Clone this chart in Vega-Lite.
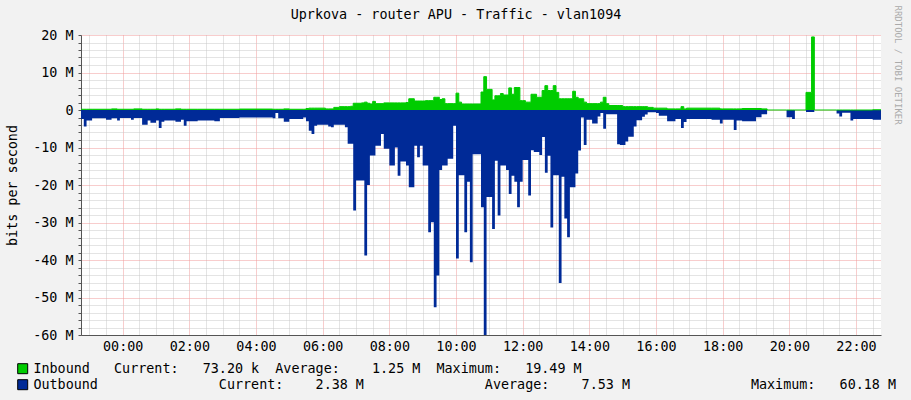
{
  "$schema": "https://vega.github.io/schema/vega-lite/v6.json",
  "width": 800,
  "height": 300,
  "autosize": {"type": "none"},
  "padding": {"left": 81, "top": 35, "right": 30, "bottom": 65},
  "background": "#f2f2f2",
  "title": {"text": "Uprkova - router APU - Traffic - vlan1094", "anchor": "middle", "offset": -16, "dx": -25, "font": "DejaVu Sans Mono", "fontSize": 13.4, "fontWeight": "normal", "color": "#000"},
  "config": {"view": {"fill": "white", "stroke": null}},
  "data": {"values": [
    {"t":"2024-01-01T22:45:00Z","Inbound":0.2,"Outbound":-2.4},
    {"t":"2024-01-01T22:50:00Z","Inbound":0.2,"Outbound":-4.4},
    {"t":"2024-01-01T22:55:00Z","Inbound":0.2,"Outbound":-2.8},
    {"t":"2024-01-01T23:05:00Z","Inbound":0.2,"Outbound":-2.2},
    {"t":"2024-01-01T23:30:00Z","Inbound":0.2,"Outbound":-2.6},
    {"t":"2024-01-01T23:40:00Z","Inbound":0.3,"Outbound":-2.2},
    {"t":"2024-01-01T23:50:00Z","Inbound":0.2,"Outbound":-2.8},
    {"t":"2024-01-01T23:55:00Z","Inbound":0.2,"Outbound":-2.1},
    {"t":"2024-01-02T00:15:00Z","Inbound":0.2,"Outbound":-2.6},
    {"t":"2024-01-02T00:20:00Z","Inbound":0.3,"Outbound":-2.1},
    {"t":"2024-01-02T00:35:00Z","Inbound":0.2,"Outbound":-3.9},
    {"t":"2024-01-02T00:45:00Z","Inbound":0.2,"Outbound":-2.8},
    {"t":"2024-01-02T00:50:00Z","Inbound":0.2,"Outbound":-3.4},
    {"t":"2024-01-02T01:00:00Z","Inbound":0.3,"Outbound":-2.8},
    {"t":"2024-01-02T01:05:00Z","Inbound":0.2,"Outbound":-4.8},
    {"t":"2024-01-02T01:10:00Z","Inbound":0.2,"Outbound":-3.1},
    {"t":"2024-01-02T01:15:00Z","Inbound":0.2,"Outbound":-2.8},
    {"t":"2024-01-02T01:35:00Z","Inbound":0.3,"Outbound":-3.1},
    {"t":"2024-01-02T01:45:00Z","Inbound":0.2,"Outbound":-2.6},
    {"t":"2024-01-02T01:50:00Z","Inbound":0.2,"Outbound":-4.2},
    {"t":"2024-01-02T01:55:00Z","Inbound":0.2,"Outbound":-3.0},
    {"t":"2024-01-02T02:15:00Z","Inbound":0.2,"Outbound":-2.8},
    {"t":"2024-01-02T02:45:00Z","Inbound":0.2,"Outbound":-3.0},
    {"t":"2024-01-02T02:55:00Z","Inbound":0.2,"Outbound":-2.1},
    {"t":"2024-01-02T03:30:00Z","Inbound":0.25,"Outbound":-2.0},
    {"t":"2024-01-02T04:30:00Z","Inbound":0.2,"Outbound":-2.2},
    {"t":"2024-01-02T04:35:00Z","Inbound":0.2,"Outbound":-0.8},
    {"t":"2024-01-02T04:40:00Z","Inbound":0.2,"Outbound":-2.2},
    {"t":"2024-01-02T04:50:00Z","Inbound":0.3,"Outbound":-3.1},
    {"t":"2024-01-02T05:00:00Z","Inbound":0.2,"Outbound":-2.4},
    {"t":"2024-01-02T05:25:00Z","Inbound":0.2,"Outbound":-2.0},
    {"t":"2024-01-02T05:30:00Z","Inbound":0.4,"Outbound":-3.0},
    {"t":"2024-01-02T05:35:00Z","Inbound":0.5,"Outbound":-5.5},
    {"t":"2024-01-02T05:40:00Z","Inbound":0.5,"Outbound":-6.4},
    {"t":"2024-01-02T05:45:00Z","Inbound":0.5,"Outbound":-4.2},
    {"t":"2024-01-02T05:50:00Z","Inbound":0.5,"Outbound":-3.9},
    {"t":"2024-01-02T06:05:00Z","Inbound":0.3,"Outbound":-3.9},
    {"t":"2024-01-02T06:10:00Z","Inbound":0.3,"Outbound":-4.4},
    {"t":"2024-01-02T06:15:00Z","Inbound":0.3,"Outbound":-4.6},
    {"t":"2024-01-02T06:20:00Z","Inbound":0.7,"Outbound":-3.9},
    {"t":"2024-01-02T06:30:00Z","Inbound":0.9,"Outbound":-3.9},
    {"t":"2024-01-02T06:40:00Z","Inbound":0.9,"Outbound":-4.6},
    {"t":"2024-01-02T06:45:00Z","Inbound":0.9,"Outbound":-9.0},
    {"t":"2024-01-02T06:50:00Z","Inbound":1.0,"Outbound":-9.0},
    {"t":"2024-01-02T06:55:00Z","Inbound":1.8,"Outbound":-26.8},
    {"t":"2024-01-02T07:00:00Z","Inbound":1.8,"Outbound":-18.8},
    {"t":"2024-01-02T07:10:00Z","Inbound":1.9,"Outbound":-18.8},
    {"t":"2024-01-02T07:15:00Z","Inbound":2.1,"Outbound":-38.8},
    {"t":"2024-01-02T07:20:00Z","Inbound":1.8,"Outbound":-20.0},
    {"t":"2024-01-02T07:25:00Z","Inbound":1.6,"Outbound":-12.1},
    {"t":"2024-01-02T07:30:00Z","Inbound":2.3,"Outbound":-12.1},
    {"t":"2024-01-02T07:35:00Z","Inbound":1.7,"Outbound":-9.5},
    {"t":"2024-01-02T07:45:00Z","Inbound":1.7,"Outbound":-6.4},
    {"t":"2024-01-02T07:50:00Z","Inbound":1.9,"Outbound":-10.3},
    {"t":"2024-01-02T08:00:00Z","Inbound":1.9,"Outbound":-14.8},
    {"t":"2024-01-02T08:10:00Z","Inbound":1.9,"Outbound":-10.0},
    {"t":"2024-01-02T08:15:00Z","Inbound":1.9,"Outbound":-17.5},
    {"t":"2024-01-02T08:20:00Z","Inbound":1.9,"Outbound":-13.7},
    {"t":"2024-01-02T08:30:00Z","Inbound":2.0,"Outbound":-14.8},
    {"t":"2024-01-02T08:35:00Z","Inbound":3.0,"Outbound":-20.6},
    {"t":"2024-01-02T08:45:00Z","Inbound":2.4,"Outbound":-9.5},
    {"t":"2024-01-02T08:50:00Z","Inbound":2.4,"Outbound":-12.6},
    {"t":"2024-01-02T08:55:00Z","Inbound":2.4,"Outbound":-9.5},
    {"t":"2024-01-02T09:00:00Z","Inbound":2.4,"Outbound":-14.8},
    {"t":"2024-01-02T09:05:00Z","Inbound":2.5,"Outbound":-14.8},
    {"t":"2024-01-02T09:10:00Z","Inbound":2.5,"Outbound":-32.6},
    {"t":"2024-01-02T09:15:00Z","Inbound":2.5,"Outbound":-29.9},
    {"t":"2024-01-02T09:20:00Z","Inbound":3.4,"Outbound":-52.6},
    {"t":"2024-01-02T09:25:00Z","Inbound":3.4,"Outbound":-44.1},
    {"t":"2024-01-02T09:30:00Z","Inbound":2.8,"Outbound":-16.0},
    {"t":"2024-01-02T09:35:00Z","Inbound":3.0,"Outbound":-14.8},
    {"t":"2024-01-02T09:40:00Z","Inbound":1.7,"Outbound":-14.8},
    {"t":"2024-01-02T09:45:00Z","Inbound":1.7,"Outbound":-13.0},
    {"t":"2024-01-02T09:55:00Z","Inbound":1.7,"Outbound":-4.2},
    {"t":"2024-01-02T10:00:00Z","Inbound":4.5,"Outbound":-39.6},
    {"t":"2024-01-02T10:05:00Z","Inbound":2.1,"Outbound":-17.4},
    {"t":"2024-01-02T10:10:00Z","Inbound":1.6,"Outbound":-17.4},
    {"t":"2024-01-02T10:15:00Z","Inbound":1.6,"Outbound":-32.6},
    {"t":"2024-01-02T10:20:00Z","Inbound":1.6,"Outbound":-19.1},
    {"t":"2024-01-02T10:25:00Z","Inbound":1.6,"Outbound":-40.6},
    {"t":"2024-01-02T10:30:00Z","Inbound":1.6,"Outbound":-11.8},
    {"t":"2024-01-02T10:45:00Z","Inbound":4.8,"Outbound":-25.9},
    {"t":"2024-01-02T10:50:00Z","Inbound":8.9,"Outbound":-60.18},
    {"t":"2024-01-02T10:55:00Z","Inbound":5.5,"Outbound":-23.2},
    {"t":"2024-01-02T11:05:00Z","Inbound":2.7,"Outbound":-31.7},
    {"t":"2024-01-02T11:10:00Z","Inbound":3.8,"Outbound":-13.5},
    {"t":"2024-01-02T11:15:00Z","Inbound":3.8,"Outbound":-28.1},
    {"t":"2024-01-02T11:20:00Z","Inbound":4.4,"Outbound":-14.8},
    {"t":"2024-01-02T11:25:00Z","Inbound":4.0,"Outbound":-14.8},
    {"t":"2024-01-02T11:30:00Z","Inbound":4.0,"Outbound":-16.0},
    {"t":"2024-01-02T11:35:00Z","Inbound":5.9,"Outbound":-22.4},
    {"t":"2024-01-02T11:40:00Z","Inbound":4.2,"Outbound":-17.5},
    {"t":"2024-01-02T11:45:00Z","Inbound":6.0,"Outbound":-19.1},
    {"t":"2024-01-02T11:50:00Z","Inbound":6.0,"Outbound":-25.9},
    {"t":"2024-01-02T11:55:00Z","Inbound":2.5,"Outbound":-19.1},
    {"t":"2024-01-02T12:00:00Z","Inbound":2.5,"Outbound":-13.3},
    {"t":"2024-01-02T12:05:00Z","Inbound":2.1,"Outbound":-13.3},
    {"t":"2024-01-02T12:10:00Z","Inbound":2.1,"Outbound":-22.8},
    {"t":"2024-01-02T12:15:00Z","Inbound":4.2,"Outbound":-10.7},
    {"t":"2024-01-02T12:20:00Z","Inbound":4.2,"Outbound":-11.2},
    {"t":"2024-01-02T12:25:00Z","Inbound":3.4,"Outbound":-11.2},
    {"t":"2024-01-02T12:30:00Z","Inbound":3.4,"Outbound":-12.0},
    {"t":"2024-01-02T12:35:00Z","Inbound":5.2,"Outbound":-7.2},
    {"t":"2024-01-02T12:40:00Z","Inbound":6.5,"Outbound":-16.7},
    {"t":"2024-01-02T12:45:00Z","Inbound":5.2,"Outbound":-12.2},
    {"t":"2024-01-02T12:50:00Z","Inbound":5.2,"Outbound":-31.3},
    {"t":"2024-01-02T12:55:00Z","Inbound":6.5,"Outbound":-17.4},
    {"t":"2024-01-02T13:00:00Z","Inbound":4.7,"Outbound":-17.4},
    {"t":"2024-01-02T13:05:00Z","Inbound":3.0,"Outbound":-46.1},
    {"t":"2024-01-02T13:10:00Z","Inbound":3.0,"Outbound":-17.8},
    {"t":"2024-01-02T13:15:00Z","Inbound":3.0,"Outbound":-28.9},
    {"t":"2024-01-02T13:20:00Z","Inbound":3.0,"Outbound":-33.9},
    {"t":"2024-01-02T13:25:00Z","Inbound":3.0,"Outbound":-20.6},
    {"t":"2024-01-02T13:30:00Z","Inbound":5.0,"Outbound":-20.6},
    {"t":"2024-01-02T13:35:00Z","Inbound":3.4,"Outbound":-16.9},
    {"t":"2024-01-02T13:40:00Z","Inbound":3.0,"Outbound":-10.8},
    {"t":"2024-01-02T13:45:00Z","Inbound":3.0,"Outbound":-2.0},
    {"t":"2024-01-02T13:50:00Z","Inbound":2.1,"Outbound":-9.3},
    {"t":"2024-01-02T13:55:00Z","Inbound":1.7,"Outbound":-2.6},
    {"t":"2024-01-02T14:05:00Z","Inbound":1.7,"Outbound":-3.6},
    {"t":"2024-01-02T14:15:00Z","Inbound":1.7,"Outbound":-1.7},
    {"t":"2024-01-02T14:20:00Z","Inbound":2.1,"Outbound":-0.8},
    {"t":"2024-01-02T14:25:00Z","Inbound":3.4,"Outbound":-5.0},
    {"t":"2024-01-02T14:30:00Z","Inbound":1.7,"Outbound":-1.1},
    {"t":"2024-01-02T14:35:00Z","Inbound":1.2,"Outbound":-1.1},
    {"t":"2024-01-02T14:50:00Z","Inbound":1.2,"Outbound":-9.1},
    {"t":"2024-01-02T14:55:00Z","Inbound":1.2,"Outbound":-9.3},
    {"t":"2024-01-02T15:00:00Z","Inbound":0.9,"Outbound":-9.3},
    {"t":"2024-01-02T15:05:00Z","Inbound":0.9,"Outbound":-8.4},
    {"t":"2024-01-02T15:10:00Z","Inbound":0.9,"Outbound":-7.1},
    {"t":"2024-01-02T15:20:00Z","Inbound":0.9,"Outbound":-4.4},
    {"t":"2024-01-02T15:25:00Z","Inbound":0.9,"Outbound":-2.7},
    {"t":"2024-01-02T15:35:00Z","Inbound":0.9,"Outbound":-1.8},
    {"t":"2024-01-02T15:40:00Z","Inbound":0.9,"Outbound":-1.2},
    {"t":"2024-01-02T15:45:00Z","Inbound":0.7,"Outbound":-0.6},
    {"t":"2024-01-02T15:55:00Z","Inbound":0.5,"Outbound":-0.6},
    {"t":"2024-01-02T16:00:00Z","Inbound":0.5,"Outbound":-0.8},
    {"t":"2024-01-02T16:05:00Z","Inbound":0.5,"Outbound":-1.5},
    {"t":"2024-01-02T16:20:00Z","Inbound":0.3,"Outbound":-3.0},
    {"t":"2024-01-02T16:35:00Z","Inbound":0.3,"Outbound":-2.4},
    {"t":"2024-01-02T16:45:00Z","Inbound":0.9,"Outbound":-4.8},
    {"t":"2024-01-02T16:50:00Z","Inbound":0.3,"Outbound":-3.2},
    {"t":"2024-01-02T16:55:00Z","Inbound":0.5,"Outbound":-2.4},
    {"t":"2024-01-02T17:40:00Z","Inbound":0.5,"Outbound":-2.6},
    {"t":"2024-01-02T17:55:00Z","Inbound":0.3,"Outbound":-3.6},
    {"t":"2024-01-02T18:00:00Z","Inbound":0.3,"Outbound":-2.6},
    {"t":"2024-01-02T18:20:00Z","Inbound":0.3,"Outbound":-5.3},
    {"t":"2024-01-02T18:25:00Z","Inbound":0.3,"Outbound":-2.8},
    {"t":"2024-01-02T18:35:00Z","Inbound":0.4,"Outbound":-3.0},
    {"t":"2024-01-02T19:00:00Z","Inbound":0.4,"Outbound":-1.9},
    {"t":"2024-01-02T19:10:00Z","Inbound":0.3,"Outbound":-1.1},
    {"t":"2024-01-02T19:20:00Z","Inbound":0,"Outbound":0},
    {"t":"2024-01-02T19:55:00Z","Inbound":0,"Outbound":-1.9},
    {"t":"2024-01-02T20:05:00Z","Inbound":0,"Outbound":-2.4},
    {"t":"2024-01-02T20:10:00Z","Inbound":0,"Outbound":0},
    {"t":"2024-01-02T20:30:00Z","Inbound":4.7,"Outbound":-0.5},
    {"t":"2024-01-02T20:40:00Z","Inbound":19.49,"Outbound":-0.5},
    {"t":"2024-01-02T20:45:00Z","Inbound":0,"Outbound":0},
    {"t":"2024-01-02T21:25:00Z","Inbound":0,"Outbound":-0.9},
    {"t":"2024-01-02T21:30:00Z","Inbound":0,"Outbound":-1.7},
    {"t":"2024-01-02T21:35:00Z","Inbound":0,"Outbound":-0.7},
    {"t":"2024-01-02T21:50:00Z","Inbound":0,"Outbound":-2.8},
    {"t":"2024-01-02T21:55:00Z","Inbound":0,"Outbound":-2.4},
    {"t":"2024-01-02T22:30:00Z","Inbound":0.07,"Outbound":-2.6},
    {"t":"2024-01-02T22:45:00Z","Inbound":0.07,"Outbound":-2.38}
  ]},
  "transform": [{"fold": ["Inbound", "Outbound"], "as": ["series", "value"]}],
  "encoding": {
    "x": {"field": "t", "type": "temporal",
      "scale": {"type": "utc", "domain": [1704149100000, 1704235500000]},
      "axis": {"title": null,
        "values": [1704150000000,1704151800000,1704153600000,1704155400000,1704157200000,1704159000000,1704160800000,1704162600000,1704164400000,1704166200000,1704168000000,1704169800000,1704171600000,1704173400000,1704175200000,1704177000000,1704178800000,1704180600000,1704182400000,1704184200000,1704186000000,1704187800000,1704189600000,1704191400000,1704193200000,1704195000000,1704196800000,1704198600000,1704200400000,1704202200000,1704204000000,1704205800000,1704207600000,1704209400000,1704211200000,1704213000000,1704214800000,1704216600000,1704218400000,1704220200000,1704222000000,1704223800000,1704225600000,1704227400000,1704229200000,1704231000000,1704232800000,1704234600000],
        "labelExpr": "(utchours(datum.value) % 2 === 0 && utcminutes(datum.value) === 0) ? utcFormat(datum.value, '%H:%M') : ''",
        "gridColor": {"condition": {"test": "utchours(datum.value) % 2 === 0 && utcminutes(datum.value) === 0", "value": "#f09a9a"}, "value": "#c8c8c8"},
        "gridDash": [1, 1], "ticks": false, "labelOverlap": false, "labelFlush": false, "labelPadding": 4,
        "labelFont": "DejaVu Sans Mono", "labelFontSize": 13.4, "labelColor": "#000", "domainColor": "#555"}},
    "y": {"field": "value", "type": "quantitative",
      "scale": {"domain": [-60, 20], "nice": false},
      "axis": {"values": [-60,-58,-56,-54,-52,-50,-48,-46,-44,-42,-40,-38,-36,-34,-32,-30,-28,-26,-24,-22,-20,-18,-16,-14,-12,-10,-8,-6,-4,-2,0,2,4,6,8,10,12,14,16,18,20],
        "title": "bits per second", "titleFont": "DejaVu Sans Mono", "titleFontSize": 13.4, "titleFontWeight": "normal", "titleColor": "#000",
        "titleAngle": -90, "titleX": -69, "titleY": 150, "titleAlign": "center", "titleBaseline": "middle",
        "labelExpr": "datum.value % 10 === 0 ? (datum.value === 0 ? '0' : datum.value + ' M') : ''",
        "labelFont": "DejaVu Sans Mono", "labelFontSize": 13.4, "labelColor": "#000", "labelPadding": 5, "labelOverlap": false, "labelFlush": false,
        "tickSize": 3, "tickColor": "#555", "domainColor": "#555",
        "gridColor": {"condition": {"test": "datum.value % 10 === 0", "value": "#f09a9a"}, "value": "#c8c8c8"},
        "gridDash": [1, 1]}}
  },
  "layer": [
    {
      "mark": {"type": "area", "interpolate": "step-after", "opacity": 1, "clip": true},
      "encoding": {
        "color": {"field": "series", "type": "nominal",
          "scale": {"domain": ["Inbound", "Outbound"], "range": ["#00CC00", "#002A97"]},
          "legend": {"orient": "none", "legendX": -65, "legendY": 327, "direction": "vertical", "title": null,
            "symbolType": "square", "symbolSize": 100, "symbolStrokeColor": "#000", "symbolStrokeWidth": 1, "symbolOpacity": 1,
            "labelFont": "DejaVu Sans Mono", "labelFontSize": 13.4, "labelColor": "#000", "labelOffset": 4, "labelLimit": 2000, "rowPadding": 1, "padding": 0,
            "labelExpr": "datum.label === 'Inbound' ? 'Inbound\u00a0\u00a0\u00a0Current:\u00a0\u00a0\u00a073.20\u00a0k\u00a0\u00a0Average:\u00a0\u00a0\u00a0\u00a01.25\u00a0M\u00a0\u00a0Maximum:\u00a0\u00a0\u00a019.49\u00a0M' : 'Outbound\u00a0\u00a0\u00a0\u00a0\u00a0\u00a0\u00a0\u00a0\u00a0\u00a0\u00a0\u00a0\u00a0\u00a0\u00a0Current:\u00a0\u00a0\u00a0\u00a02.38\u00a0M\u00a0\u00a0\u00a0\u00a0\u00a0\u00a0\u00a0\u00a0\u00a0\u00a0\u00a0\u00a0\u00a0\u00a0\u00a0Average:\u00a0\u00a0\u00a0\u00a07.53\u00a0M\u00a0\u00a0\u00a0\u00a0\u00a0\u00a0\u00a0\u00a0\u00a0\u00a0\u00a0\u00a0\u00a0\u00a0\u00a0Maximum:\u00a0\u00a0\u00a060.18\u00a0M'"}}
      }
    },
    {
      "transform": [{"filter": "datum.series === 'Inbound'"}],
      "mark": {"type": "line", "interpolate": "step-after", "color": "#00CC00", "strokeWidth": 1, "clip": true},
      "encoding": {
        "y": {"field": "value", "type": "quantitative",
          "scale": {"domain": [-60, 20], "nice": false},
          "axis": {"orient": "right", "title": "RRDTOOL / TOBI OETIKER", "labels": false, "ticks": false, "domain": false, "grid": false,
            "titleAngle": 90, "titleX": 16, "titleY": -30, "titleAlign": "left", "titleBaseline": "middle",
            "titleFont": "DejaVu Sans Mono", "titleFontSize": 9, "titleFontWeight": "normal", "titleColor": "#aaaaaa"}}
      }
    }
  ],
  "resolve": {"axis": {"y": "independent"}}
}
